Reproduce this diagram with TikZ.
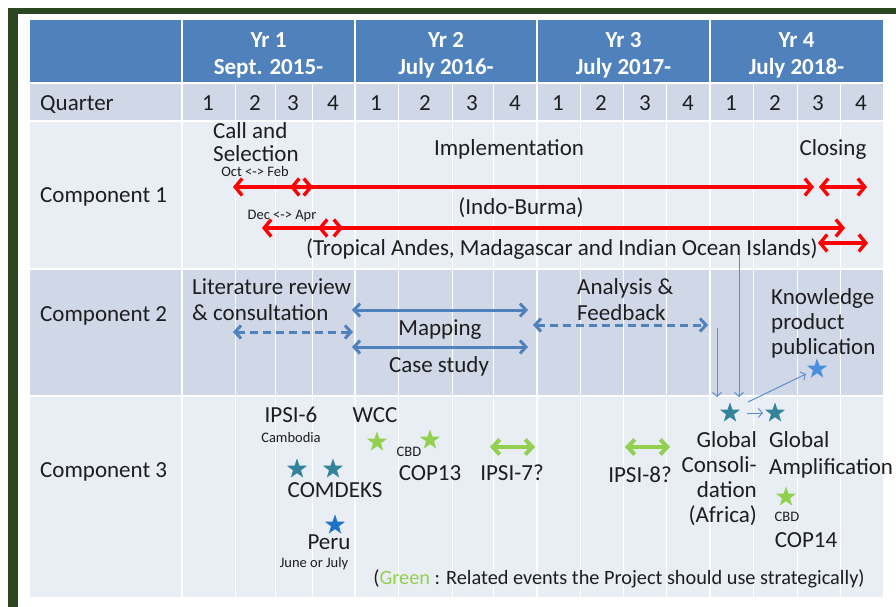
\documentclass[tikz,border=0pt]{standalone}
\usepackage{fontspec}
\setmainfont{Carlito}
\usetikzlibrary{arrows.meta,shapes.geometric}

\definecolor{hdrblue}{HTML}{4F81BD}
\definecolor{banddark}{HTML}{D0D8E8}
\definecolor{bandlight}{HTML}{E9EDF4}
\definecolor{framegreen}{HTML}{2C4620}
\definecolor{inkgray}{HTML}{1E1E1E}
\definecolor{arrowblue}{HTML}{4F81BD}
\definecolor{thinblue}{HTML}{5A8FCF}
\definecolor{evgreen}{HTML}{92D050}
\definecolor{tealstar}{HTML}{31849B}
\definecolor{perublue}{HTML}{1F72C8}
\definecolor{pubblue}{HTML}{4A8EE0}

\begin{document}
\begin{tikzpicture}[x=1pt,y=-1pt,
  txt/.style={font=\fontsize{23}{25}\selectfont, text=inkgray, inner sep=0pt},
  ctr/.style={anchor=mid, yshift=-5pt},
  ctrw/.style={anchor=mid west, yshift=-5pt},
  sctr/.style={anchor=mid, yshift=-2.5pt},
  hdr/.style={font=\fontsize{23}{27}\selectfont\bfseries, text=white, align=center, inner sep=0pt},
  smalltxt/.style={font=\fontsize{14.5}{16}\selectfont, text=inkgray, inner sep=0pt},
  tinytxt/.style={font=\fontsize{14.5}{15}\selectfont, text=inkgray, inner sep=0pt},
  redarr/.style={draw=red, line width=3.4pt, {Straight Barb[length=7pt,width=17pt]}-{Straight Barb[length=7pt,width=17pt]}},
  bluearr/.style={draw=arrowblue, line width=3pt, {Straight Barb[length=6pt,width=13pt]}-{Straight Barb[length=6pt,width=13pt]}},
  greenarr/.style={draw=evgreen, line width=4pt, {Straight Barb[length=7pt,width=15pt]}-{Straight Barb[length=7pt,width=15pt]}},
  thinarr/.style={draw=thinblue, line width=1pt, -{Straight Barb[length=4pt,width=9pt]}},
  dashline/.style={dash pattern=on 8pt off 5pt},
  starsty/.style={star, star points=5, star point ratio=2.5, minimum size=21pt, inner sep=0pt, draw=none}
]
\useasboundingbox (0,0) rectangle (896,607);

% slide frame
\fill[framegreen] (8,8) rectangle (896,14);
\fill[framegreen] (8,8) rectangle (18,607);

% table bands
\fill[hdrblue]   (30,20)  rectangle (883,82);
\fill[banddark]  (30,84)  rectangle (883,120);
\fill[bandlight] (30,122) rectangle (883,268);
\fill[banddark]  (30,270) rectangle (883,395);
\fill[bandlight] (30,397) rectangle (883,597);

% grid lines
\foreach \x in {182,355,537,710} \draw[white, line width=2pt] (\x,20) -- (\x,597);
\foreach \x in {235,275,312,398,452,493,580,623,666,753,797,840}
  \draw[white, line width=1pt] (\x,83) -- (\x,597);

% header
\node[hdr] (y1) at (268.5,55) {Yr 1\\Sept. 2015-};
\node[hdr] (y2) at (446,55) {Yr 2\\July 2016-};
\node[hdr] (y3) at (623.5,55) {Yr 3\\July 2017-};
\node[hdr] (y4) at (796.5,55) {Yr 4\\July 2018-};

% quarter row
\node[txt, ctrw] (qlab) at (40,103) {Quarter};
\foreach \x/\q [count=\i] in {208/1,255/2,293/3,333/4,376/1,425/2,472/3,515/4,558/1,601/2,645/3,688/4,731/1,775/2,818/3,861/4}
  \node[txt, ctr] (q\i) at (\x,103) {\q};

% row labels
\node[txt, ctrw] (c1) at (40,195) {Component 1};
\node[txt, ctrw] (c2) at (40,314) {Component 2};
\node[txt, ctrw] (c3) at (40,470) {Component 3};

% component 1
\node[txt, anchor=west, align=left, font=\fontsize{23}{23}\selectfont] (call) at (213,142) {Call and\\Selection};
\node[txt, ctr] (impl) at (509,148) {Implementation};
\node[txt, ctr] (clos) at (833,148) {Closing};
\node[smalltxt, sctr] (octfeb) at (255,172) {Oct <-> Feb};
\node[smalltxt, sctr] (decapr) at (282,215) {Dec <-> Apr};
\node[txt, ctr] (indo) at (521,207) {(Indo-Burma)};
\node[txt, ctr] (trop) at (562,248) {(Tropical Andes, Madagascar and Indian Ocean Islands)};

\coordinate (rA1) at (233,187); \coordinate (rA2) at (313,187);
\coordinate (rB1) at (290,187); \coordinate (rB2) at (814,187);
\coordinate (rC1) at (819,187); \coordinate (rC2) at (867,187);
\coordinate (rD1) at (262,228); \coordinate (rD2) at (343,228);
\coordinate (rE1) at (318,228); \coordinate (rE2) at (845,228);
\coordinate (rF1) at (818,243); \coordinate (rF2) at (868,243);
\draw[redarr] (rA1) -- (rA2);
\draw[redarr] (rB1) -- (rB2);
\draw[redarr] (rC1) -- (rC2);
\draw[redarr] (rD1) -- (rD2);
\draw[redarr] (rE1) -- (rE2);
\draw[redarr] (rF1) -- (rF2);

% component 2
\node[txt, anchor=west, align=left, font=\fontsize{23}{26}\selectfont] (lit) at (192,300) {Literature review\\\& consultation};
\node[txt, ctr] (mapl) at (440,328) {Mapping};
\node[txt, ctr] (casel) at (439,365) {Case study};
\node[txt, anchor=west, align=left, font=\fontsize{23}{26}\selectfont] (anal) at (577,300) {Analysis \&\\Feedback};
\node[txt, anchor=west, align=left, font=\fontsize{23}{25}\selectfont] (know) at (771,323) {Knowledge\\product\\publication};

\coordinate (bL1) at (233,332); \coordinate (bL2) at (353,332);
\coordinate (bM1) at (352,310); \coordinate (bM2) at (528,310);
\coordinate (bC1) at (352,347); \coordinate (bC2) at (528,347);
\coordinate (bA1) at (533,325); \coordinate (bA2) at (708,325);
\draw[bluearr, dashline] (bL1) -- (bL2);
\draw[bluearr] (bM1) -- (bM2);
\draw[bluearr] (bC1) -- (bC2);
\draw[bluearr, dashline] (bA1) -- (bA2);

% component 3: stars
\node[starsty, fill=tealstar] (cd1) at (297,469) {};
\node[starsty, fill=tealstar] (cd2) at (333,469) {};
\node[starsty, fill=perublue] (peru) at (335,525) {};
\node[starsty, fill=evgreen] (wccs) at (377,442) {};
\node[starsty, fill=evgreen] (cop13s) at (430,440) {};
\node[starsty, fill=evgreen] (cop14s) at (786,497) {};
\node[starsty, fill=tealstar] (gcons) at (730,413) {};
\node[starsty, fill=tealstar] (gamp) at (775,413) {};
\node[starsty, fill=pubblue] (kpub) at (817,369) {};

% component 3: labels
\node[txt, ctr] (ipsi6) at (291,415) {IPSI-6};
\node[smalltxt, sctr] (camb) at (291,438) {Cambodia};
\node[txt, ctr] (wcc) at (375,415) {WCC};
\node[tinytxt, sctr] (cbd1) at (409,452) {CBD};
\node[txt, ctr] (cop13) at (430,473) {COP13};
\node[txt, ctr] (ipsi7) at (512,473) {IPSI-7?};
\node[txt, ctr] (comd) at (335,490) {COMDEKS};
\node[txt, ctr] (perut) at (329,542) {Peru};
\node[smalltxt, sctr] (junjul) at (314,563) {June or July};
\node[txt, ctr] (ipsi8) at (640,475) {IPSI-8?};
\node[txt, anchor=east, align=right, font=\fontsize{23}{25}\selectfont] (glc) at (757,479) {Global\\Consoli-\\dation\\(Africa)};
\node[txt, anchor=west, align=left, font=\fontsize{23}{27}\selectfont] (gla) at (769,455) {Global\\Amplification};
\node[tinytxt, sctr] (cbd2) at (787,517) {CBD};
\node[txt, ctr] (cop14) at (806,540) {COP14};
\node[txt, ctr, font=\fontsize{20.3}{22}\selectfont] (note) at (619,577)
  {(\textcolor{evgreen}{Green} : Related events the Project should use strategically)};

% component 3: green double arrows
\coordinate (g71) at (490,447); \coordinate (g72) at (535,447);
\coordinate (g81) at (625,447); \coordinate (g82) at (670,447);
\draw[greenarr] (g71) -- (g72);
\draw[greenarr] (g81) -- (g82);

% thin connector arrows
\coordinate (tv1) at (739,255); \coordinate (tv1e) at (739,397);
\coordinate (tv2) at (717,328); \coordinate (tv2e) at (717,397);
\coordinate (td1) at (748,402); \coordinate (td2) at (806,374);
\coordinate (th1) at (747,413); \coordinate (th2) at (763,413);
\draw[thinarr] (tv1) -- (tv1e);
\draw[thinarr] (tv2) -- (tv2e);
\draw[thinarr] (td1) -- (td2);
\draw[thinarr] (th1) -- (th2);
\end{tikzpicture}
\end{document}
